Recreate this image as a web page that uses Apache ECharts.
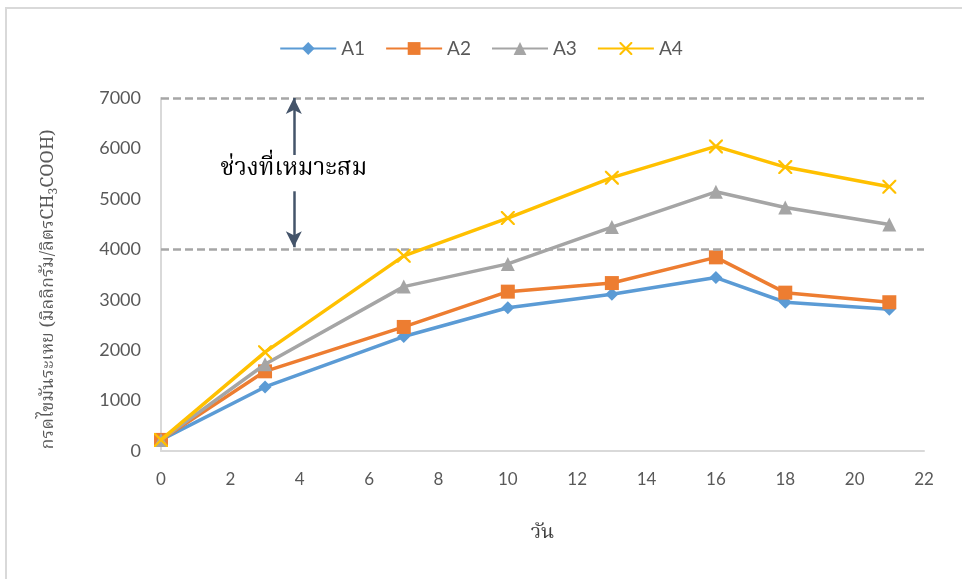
<!DOCTYPE html>
<html>
<head>
<meta charset="utf-8">
<script src="https://cdn.jsdelivr.net/npm/echarts@6/dist/echarts.min.js"></script>
<style>
  html, body { margin: 0; padding: 0; background: #ffffff; }
  #chart { width: 962px; height: 579px; }
</style>
</head>
<body>
<div id="chart"></div>
<script>
// Sampling days and volatile fatty acid readings (mg/L as CH3COOH)
const days = [0, 3, 7, 10, 13, 16, 18, 21];
const seriesNames = ['A1', 'A2', 'A3', 'A4'];
const a1 = [220, 1270, 2270, 2840, 3110, 3440, 2950, 2810];
const a2 = [220, 1580, 2460, 3160, 3330, 3840, 3140, 2950];
const a3 = [220, 1720, 3260, 3710, 4440, 5140, 4830, 4490];
const a4 = [220, 1960, 3870, 4620, 5420, 6040, 5630, 5240];

// Suitable range bounds and its annotation
const rangeLow = 4000;
const rangeHigh = 7000;
const rangeLabel = 'ช่วงที่เหมาะสม';
const arrowX = 3.83;
const arrowUpFrom = 5870;
const arrowDownFrom = 5150;
const labelY = 5560;

const xTicks = { min: 0, max: 22, step: 2 };
const yTicks = { min: 0, max: 7000, step: 1000 };

const colors = ['#5b9bd5', '#ed7d31', '#a5a5a5', '#ffc000'];
const crossPath = 'path://M0,0L1.6,0L7,5.4L12.4,0L14,0L14,1.6L8.6,7L14,12.4L14,14L12.4,14L7,8.6L1.6,14L0,14L0,12.4L5.4,7L0,1.6Z';
const symbols = ['diamond', 'rect', 'triangle', crossPath];
const symbolSizes = [13, 14, 14, 14];
const values = [a1, a2, a3, a4];

const thaiFont = '"Noto Serif Thai", "Noto Sans Thai", "TH Sarabun New", "Garuda", serif';
const uiFont = 'Lato, "Open Sans", sans-serif';

const chart = echarts.init(document.getElementById('chart'));

const series = seriesNames.map((name, i) => ({
  name: name,
  type: 'line',
  data: days.map((d, k) => [d, values[i][k]]),
  symbol: symbols[i],
  symbolSize: symbolSizes[i],
  showAllSymbol: true,
  lineStyle: { width: 3.5, color: colors[i] },
  itemStyle: { color: colors[i] },
  emphasis: { disabled: true },
  z: 3 + i
}));

// Reference lines, arrows and the range label ride on the first series
series[0].markLine = {
  silent: true,
  animation: false,
  symbol: ['none', 'none'],
  label: { show: false },
  lineStyle: { color: '#a6a6a6', width: 2.5, type: [8, 4] },
  data: [
    { yAxis: rangeHigh },
    { yAxis: rangeLow },
    [
      { coord: [arrowX, arrowUpFrom], symbol: 'none', lineStyle: { color: '#44546a', width: 2.5, type: 'solid' } },
      { coord: [arrowX, rangeHigh], symbol: 'arrow', symbolSize: [12, 16] }
    ],
    [
      { coord: [arrowX, arrowDownFrom], symbol: 'none', lineStyle: { color: '#44546a', width: 2.5, type: 'solid' } },
      { coord: [arrowX, rangeLow + 40], symbol: 'arrow', symbolSize: [12, 16] }
    ]
  ]
};
series[0].markPoint = {
  silent: true,
  animation: false,
  symbol: 'circle',
  symbolSize: 1,
  itemStyle: { color: 'rgba(0,0,0,0)' },
  label: {
    show: true,
    position: 'inside',
    formatter: rangeLabel,
    color: '#000000',
    fontSize: 24,
    fontFamily: thaiFont
  },
  data: [{ coord: [arrowX, labelY] }]
};

chart.setOption({
  animation: false,
  backgroundColor: '#ffffff',
  color: colors,
  graphic: [{
    type: 'rect',
    shape: { x: 6, y: 8, width: 980, height: 600 },
    style: { fill: 'none', stroke: '#d9d9d9', lineWidth: 2 },
    silent: true
  }],
  legend: {
    top: 34,
    left: 'center',
    data: seriesNames,
    itemWidth: 56,
    itemHeight: 16,
    itemGap: 20,
    textStyle: { color: '#595959', fontSize: 19, fontFamily: uiFont }
  },
  grid: { left: 161, right: 38, top: 98, bottom: 128 },
  xAxis: {
    type: 'value',
    min: xTicks.min,
    max: xTicks.max,
    interval: xTicks.step,
    name: 'วัน',
    nameLocation: 'middle',
    nameGap: 74,
    nameTextStyle: { color: '#404040', fontSize: 20, fontFamily: thaiFont },
    axisLine: { show: true, lineStyle: { color: '#d9d9d9', width: 2 } },
    axisTick: { show: false },
    splitLine: { show: false },
    axisLabel: { color: '#595959', fontSize: 17, fontFamily: uiFont, margin: 20 }
  },
  yAxis: {
    type: 'value',
    min: yTicks.min,
    max: yTicks.max,
    interval: yTicks.step,
    name: '{t|กรดไขมันระเหย (มิลลิกรัม/ลิตรCH}{s|3}{t|COOH)}',
    nameLocation: 'middle',
    nameGap: 100,
    nameTextStyle: {
      padding: [0, 30, 0, 0],
      rich: {
        t: { color: '#595959', fontSize: 18, fontFamily: thaiFont },
        s: { color: '#595959', fontSize: 12, fontFamily: thaiFont, padding: [10, 0, 0, 0] }
      }
    },
    axisLine: { show: true, lineStyle: { color: '#d9d9d9', width: 2 } },
    axisTick: { show: false },
    splitLine: { show: false },
    axisLabel: {
      color: '#595959', fontSize: 18, fontFamily: uiFont, margin: 20,
      formatter: (v) => String(v)
    }
  },
  series: series
});
</script>
</body>
</html>
